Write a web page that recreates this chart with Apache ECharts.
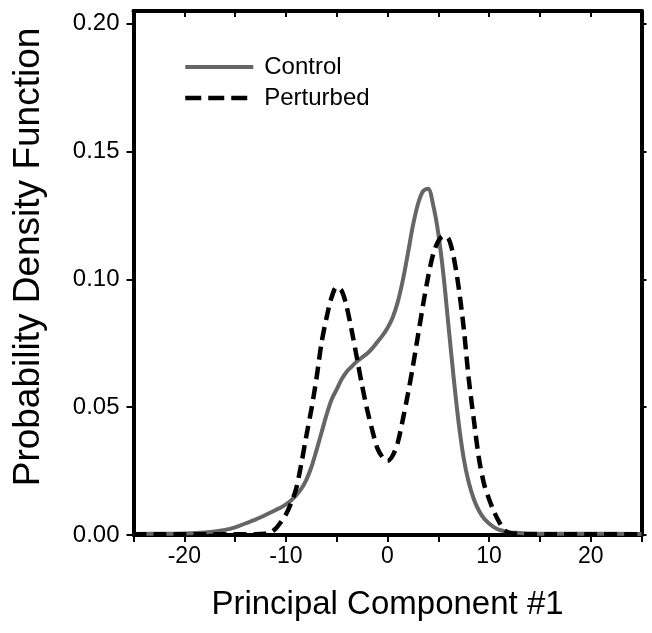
<!DOCTYPE html>
<html>
<head>
<meta charset="utf-8">
<script src="https://cdn.jsdelivr.net/npm/echarts@6/dist/echarts.min.js"></script>
<style>
  html, body { margin: 0; padding: 0; background: #fff; }
  #chart { width: 652px; height: 633px; }
</style>
</head>
<body>
<div id="chart"></div>
<script>
// Principal component grid shared by both density estimates
const pcValues = [
  -25, -22, -20, -18, -16, -15, -14, -13, -12, -11.5, -11, -10.5, -10,
  -9.5, -9, -8.5, -8, -7.5, -7, -6.5, -6, -5.5, -5, -4.5, -4, -3.5, -3,
  -2.5, -2, -1.5, -1, -0.5, 0, 0.5, 1, 1.5, 2, 2.5, 3, 3.5, 4, 4.5, 5,
  5.5, 6, 6.5, 7, 7.5, 8, 8.5, 9, 9.5, 10, 10.5, 11, 11.5, 12, 13, 14,
  16, 20, 25
];

// Density of the control population
const controlPdf = [
  0.0004, 0.0005, 0.0006, 0.001, 0.002, 0.003, 0.0045, 0.006, 0.0078, 0.0088, 0.0098, 0.0108, 0.012,
  0.0135, 0.0155, 0.018, 0.0215, 0.0265, 0.033, 0.040, 0.047, 0.053, 0.057, 0.061, 0.064, 0.066, 0.068,
  0.0695, 0.071, 0.073, 0.0755, 0.078, 0.081, 0.085, 0.091, 0.0995, 0.110, 0.121, 0.1295, 0.1345, 0.1355, 0.129, 0.118,
  0.102, 0.082, 0.062, 0.044, 0.030, 0.0205, 0.014, 0.0095, 0.0065, 0.0045, 0.003, 0.002, 0.0015, 0.001, 0.0008, 0.0006,
  0.0005, 0.0005, 0.0004
];

// Density of the perturbed population
const perturbedPdf = [
  0.0003, 0.0003, 0.0003, 0.0003, 0.0003, 0.0003, 0.0003, 0.0003, 0.0005, 0.001, 0.0025, 0.005, 0.008,
  0.0124, 0.018, 0.0275, 0.0385, 0.049, 0.061, 0.075, 0.085, 0.093, 0.097, 0.0955, 0.089, 0.0795, 0.069,
  0.0585, 0.049, 0.041, 0.034, 0.0305, 0.029, 0.031, 0.036, 0.045, 0.055, 0.066, 0.078, 0.090, 0.101, 0.110, 0.115,
  0.117, 0.116, 0.109, 0.097, 0.081, 0.061, 0.045, 0.030, 0.020, 0.014, 0.009, 0.005, 0.002, 0.0008, 0.0004, 0.0003,
  0.0003, 0.0003, 0.0003
];

const seriesNames = ['Control', 'Perturbed'];
const xTickLabels = [-20, -10, 0, 10, 20];
const xTicks = [-25, -20, -15, -10, -5, 0, 5, 10, 15, 20, 25];
const yTicks = [0, 0.05, 0.10, 0.15, 0.20];

const FONT = '"Liberation Sans", Arial, Helvetica, sans-serif';
const CONTROL_COLOR = '#666666';
const CONTROL_WIDTH = 4;
const PERTURBED_WIDTH = 4.5;
const PERTURBED_DASH = [13, 7];

const pairs = (ys) => pcValues.map((x, i) => [x, ys[i]]);

const chart = echarts.init(document.getElementById('chart'), null, { renderer: 'canvas' });

const frameLine = { show: true, onZero: false, lineStyle: { color: '#000', width: 4 } };

chart.setOption({
  backgroundColor: '#fff',
  animation: false,
  grid: { left: 133.5, right: 10.5, top: 11, bottom: 98, containLabel: false },
  legend: {
    orient: 'vertical',
    left: 178,
    top: 50,
    itemWidth: 68,
    itemHeight: 14,
    itemGap: 7,
    itemStyle: { opacity: 0 },
    textStyle: { fontFamily: FONT, fontSize: 24, color: '#000', padding: [0, 0, 0, 6] },
    data: [
      { name: seriesNames[0], lineStyle: { color: CONTROL_COLOR, width: CONTROL_WIDTH } },
      { name: seriesNames[1], lineStyle: { color: '#000', width: PERTURBED_WIDTH, type: [16, 7] } }
    ]
  },
  xAxis: [
    {
      type: 'value', min: -25, max: 25, interval: 5, position: 'bottom',
      axisLine: frameLine,
      axisTick: { show: true, inside: false, length: 7, lineStyle: { color: '#000', width: 2 }, customValues: xTicks },
      axisLabel: { show: true, margin: 10, fontFamily: FONT, fontSize: 23, color: '#000', customValues: xTickLabels },
      splitLine: { show: false },
      name: 'Principal Component #1', nameLocation: 'middle', nameGap: 53,
      nameTextStyle: { fontFamily: FONT, fontSize: 33, color: '#000' }
    },
    {
      type: 'value', min: -25, max: 25, interval: 5, position: 'top',
      axisLine: frameLine,
      axisTick: { show: true, inside: true, length: 6, lineStyle: { color: '#000', width: 2 }, customValues: xTicks },
      axisLabel: { show: false },
      splitLine: { show: false }
    }
  ],
  yAxis: [
    {
      type: 'value', min: 0, max: 0.205, interval: 0.05, position: 'left',
      axisLine: frameLine,
      axisTick: { show: true, inside: false, length: 7, lineStyle: { color: '#000', width: 2 }, customValues: yTicks },
      axisLabel: {
        show: true, margin: 14, fontFamily: FONT, fontSize: 24, color: '#000',
        customValues: yTicks, formatter: (v) => v.toFixed(2)
      },
      splitLine: { show: false },
      name: 'Probability Density Function', nameLocation: 'middle', nameGap: 86,
      nameTextStyle: { fontFamily: FONT, fontSize: 37, color: '#000', padding: [0, 0, 0, 32] }
    },
    {
      type: 'value', min: 0, max: 0.205, interval: 0.05, position: 'right',
      axisLine: frameLine,
      axisTick: { show: true, inside: false, length: 5, lineStyle: { color: '#000', width: 2 }, customValues: yTicks },
      axisLabel: { show: false },
      splitLine: { show: false }
    }
  ],
  series: [
    {
      name: seriesNames[0], type: 'line', xAxisIndex: 0, yAxisIndex: 0,
      data: pairs(controlPdf), smooth: 0.3, symbol: 'none',
      lineStyle: { color: CONTROL_COLOR, width: CONTROL_WIDTH }, itemStyle: { color: CONTROL_COLOR }, z: 3
    },
    {
      name: seriesNames[1], type: 'line', xAxisIndex: 0, yAxisIndex: 0,
      data: pairs(perturbedPdf), smooth: 0.3, symbol: 'none',
      lineStyle: { color: '#000', width: PERTURBED_WIDTH, type: PERTURBED_DASH }, itemStyle: { color: '#000' }, z: 4
    }
  ]
});
</script>
</body>
</html>
